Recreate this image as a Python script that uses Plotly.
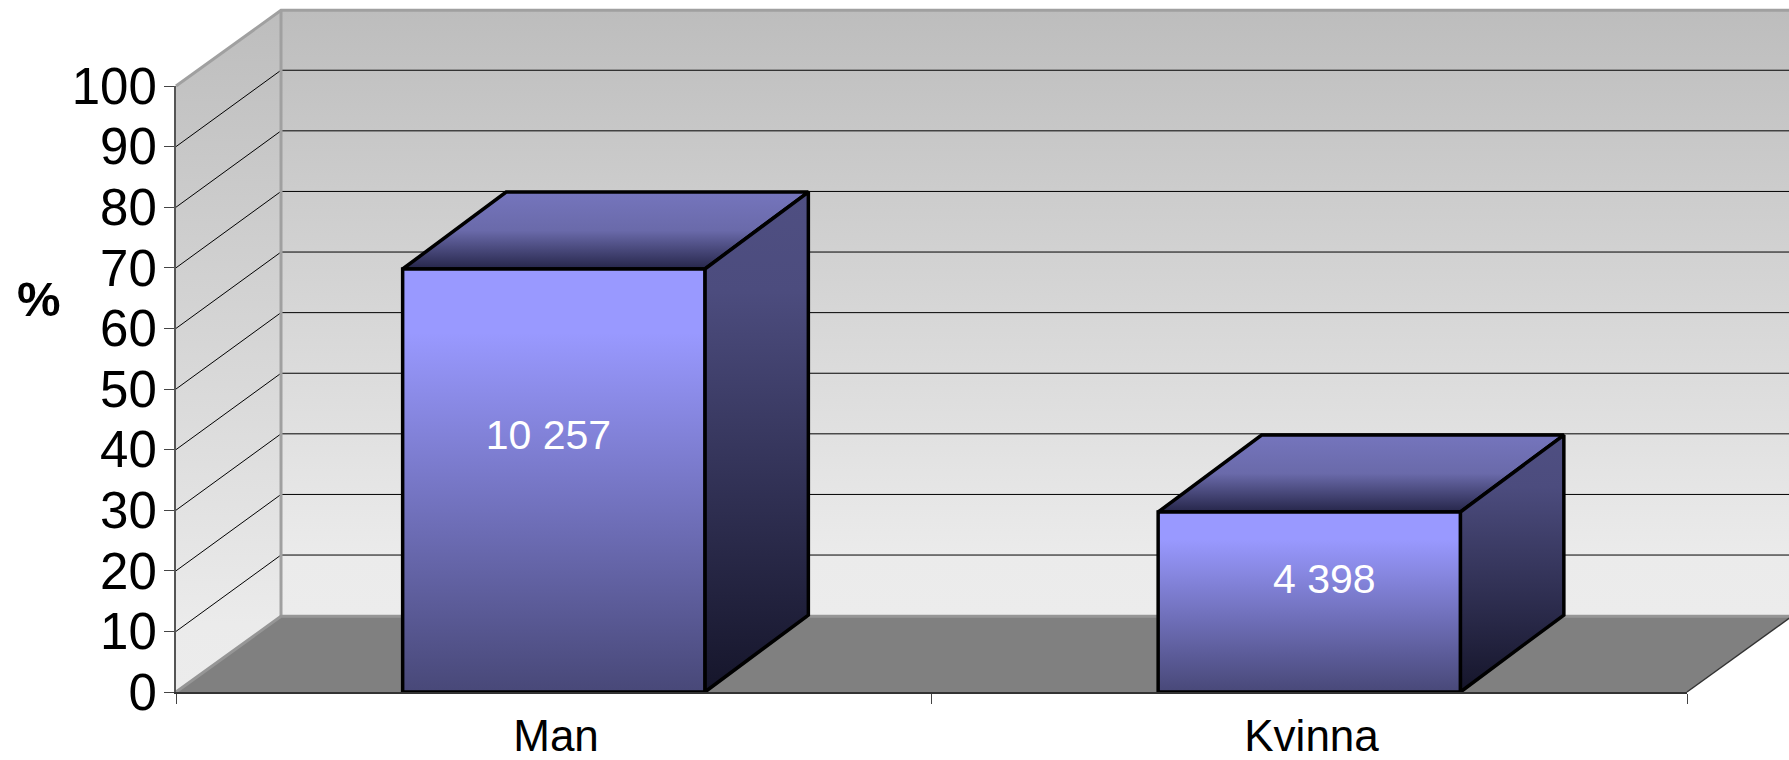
import plotly.graph_objects as go

# Data
categories = ["Man", "Kvinna"]
values = [69.8, 29.7]
bar_labels = ["10 257", "4 398"]
label_heights = [41.8, 18.1]
label_shift = [-0.007, 0.02]
y_ticks = [0, 10, 20, 30, 40, 50, 60, 70, 80, 90, 100]

# Oblique depth of the chart box, in axis units
WALL_DX, WALL_DY = 0.139, 12.5
GRID_DY = 12.6
BAR_DX, BAR_DY = 0.137, 12.7
BAR_W = 0.4
N = len(categories)

# Page layout: where the front of the chart box sits
PAGE_W, PAGE_H = 1789, 760
BOX_L, BOX_R, BOX_T, BOX_B = 176, 1687, 86, 692
X_UNIT = (BOX_R - BOX_L) / N
Y_UNIT = (BOX_B - BOX_T) / 100

WALL_SCALE = [[0, "#bdbdbd"], [0.9, "#ebebeb"], [1, "#ececec"]]
FRONT_SCALE = [[0, "#9999ff"], [0.15, "#9999ff"], [1, "#484878"]]
SIDE_SCALE = [[0, "#4f4f82"], [0.2, "#4c4c7e"], [1, "#15152a"]]
TOP_SCALE = [[0, "#7575bd"], [0.5, "#6a6aaa"], [1, "#26264a"]]


def grad(scale):
    # fillgradient colours run from the bottom of the shape upward
    return dict(type="vertical", colorscale=[[round(1 - p, 4), c] for p, c in reversed(scale)])


fig = go.Figure()


def face(xs, ys, line_color=None, line_width=0, fillcolor=None, scale=None):
    kw = dict(fillgradient=grad(scale)) if scale else dict(fillcolor=fillcolor)
    fig.add_trace(go.Scatter(
        x=xs, y=ys, mode="lines", fill="toself", hoverinfo="skip", showlegend=False,
        line=dict(color=line_color or "rgba(0,0,0,0)", width=line_width),
        **kw))


def line(xs, ys, color, width):
    fig.add_trace(go.Scatter(
        x=xs, y=ys, mode="lines", hoverinfo="skip", showlegend=False,
        line=dict(color=color, width=width)))


# Walls and floor
face([0, WALL_DX, WALL_DX, 0, 0], [0, WALL_DY, 100 + WALL_DY, 100, 0], scale=WALL_SCALE)
face([WALL_DX, N + WALL_DX, N + WALL_DX, WALL_DX, WALL_DX],
     [WALL_DY, WALL_DY, 100 + WALL_DY, 100 + WALL_DY, WALL_DY], scale=WALL_SCALE)
face([0, N, N + WALL_DX, WALL_DX, 0], [0, 0, WALL_DY, WALL_DY, 0], fillcolor="#808080")

# Gridlines
gx, gy = [], []
for v in y_ticks[1:-1]:
    gx += [0, WALL_DX, N + WALL_DX, None]
    gy += [v, v + GRID_DY, v + GRID_DY, None]
line(gx, gy, "#000000", 1)

# Wall edges
line([0, WALL_DX, N + WALL_DX], [100, 100 + WALL_DY, 100 + WALL_DY], "#a0a0a0", 3)
line([WALL_DX, WALL_DX], [WALL_DY, 100 + WALL_DY], "#a0a0a0", 3)
line([0, WALL_DX, N + WALL_DX], [0, WALL_DY, WALL_DY], "#969696", 3)
line([N, N + WALL_DX], [0, WALL_DY], "#333333", 1.5)

# Bars: top, side and front faces
for i, v in enumerate(values):
    l, r = i + 0.5 - BAR_W / 2, i + 0.5 + BAR_W / 2
    face([l, r, r + BAR_DX, l + BAR_DX, l], [v, v, v + BAR_DY, v + BAR_DY, v],
         "#000000", 3.5, scale=TOP_SCALE)
    face([r, r + BAR_DX, r + BAR_DX, r, r], [0, BAR_DY, v + BAR_DY, v, 0],
         "#000000", 3.5, scale=SIDE_SCALE)
    face([l, r, r, l, l], [0, 0, v, v, 0], "#000000", 3.5, scale=FRONT_SCALE)

# Values written on the bars
fig.add_trace(go.Scatter(
    x=[i + 0.5 + s for i, s in enumerate(label_shift)], y=label_heights,
    text=bar_labels, mode="text", hoverinfo="skip", showlegend=False,
    textfont=dict(family="Liberation Sans, Arial", size=41, color="#ffffff")))

# Invisible trace that brings the visible axes to life
fig.add_trace(go.Scatter(x=[0], y=[0], xaxis="x2", yaxis="y2", mode="markers",
                         marker=dict(opacity=0), hoverinfo="skip", showlegend=False))

fig.update_layout(
    width=PAGE_W, height=PAGE_H, autosize=False,
    margin=dict(l=0, r=0, t=0, b=0, pad=0),
    paper_bgcolor="#ffffff", plot_bgcolor="rgba(0,0,0,0)",
    showlegend=False,
    font=dict(family="Liberation Sans, Arial", color="#000000"),
    # Full-page axes that carry the marks, on the same scale as the visible axes
    xaxis=dict(domain=[0, 1], visible=False, automargin=False,
               range=[-BOX_L / X_UNIT, (PAGE_W - BOX_L) / X_UNIT]),
    yaxis=dict(domain=[0, 1], visible=False, automargin=False,
               range=[(BOX_B - PAGE_H) / Y_UNIT, BOX_B / Y_UNIT]),
    # Visible axes along the front edges of the box
    xaxis2=dict(
        domain=[BOX_L / PAGE_W, BOX_R / PAGE_W], anchor="y2", automargin=False,
        range=[0, N], showgrid=False, zeroline=False,
        showline=True, linecolor="#333333", linewidth=2,
        tickmode="array", tickvals=[i + 0.503 for i in range(N)], ticktext=categories,
        ticks="", tickfont=dict(size=44), ticklabelstandoff=4,
        minor=dict(tickmode="array", tickvals=list(range(N + 1)), ticks="outside",
                   ticklen=10, tickwidth=1, tickcolor="#444444", showgrid=False),
    ),
    yaxis2=dict(
        domain=[(PAGE_H - BOX_B) / PAGE_H, (PAGE_H - BOX_T) / PAGE_H], anchor="x2",
        automargin=False,
        range=[0, 100], showgrid=False, zeroline=False,
        showline=True, linecolor="#555555", linewidth=2,
        tickmode="array", tickvals=y_ticks, ticks="outside",
        ticklen=10, tickwidth=1, tickcolor="#444444",
        tickfont=dict(size=51), ticklabelstandoff=-3,
    ),
    annotations=[dict(
        text="<b>%</b>", x=39 / PAGE_W, y=(PAGE_H - 299) / PAGE_H, xref="paper", yref="paper",
        showarrow=False, font=dict(size=49, color="#000000"),
        xanchor="center", yanchor="middle")],
)

fig.write_html("out.html", config=dict(displayModeBar=False),
               post_script="document.body.style.margin='0';")
